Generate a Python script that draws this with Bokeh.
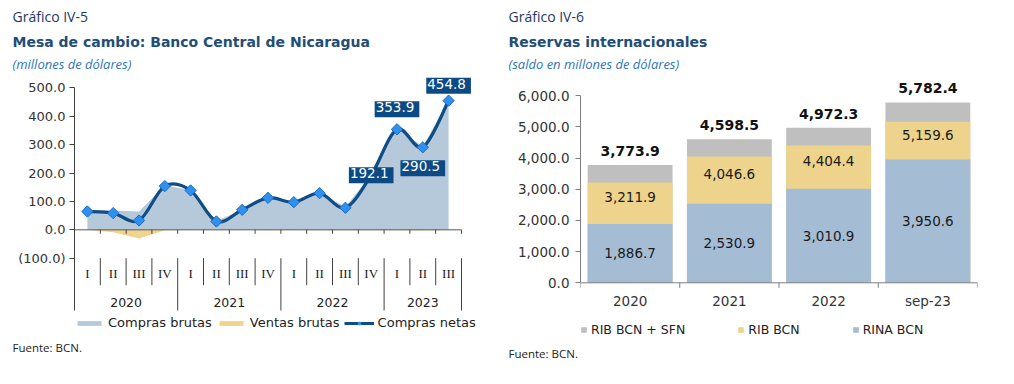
from bokeh.plotting import figure
from bokeh.models import (Range1d, FixedTicker, Title, Legend, LegendItem,
                          ColumnDataSource, NumeralTickFormatter)
from bokeh.layouts import row
from bokeh.embed import file_html
from bokeh.resources import INLINE
from bokeh.core.properties import value

# ---------------- data: Gráfico IV-5 ----------------
years = ["2020", "2021", "2022", "2023"]
quarters_per_year = [4, 4, 4, 3]
quarter_names = ["I", "II", "III", "IV"]
compras_netas = [64.5, 58.7, 32.9, 153.8, 138.5, 29.3, 70.4, 112.7, 97.4, 129.1, 77.5,
                 192.1, 353.9, 290.5, 454.8]
compras_brutas = [68.0, 68.0, 64.0, 156.0, 140.0, 31.0, 71.0, 114.0, 99.0, 131.0, 80.0,
                  194.0, 356.0, 293.0, 456.0]
ventas_brutas = [-1.0, -9.0, -31.0, -2.0, -1.0, -1.5, -0.5, -1.5, -1.0, -1.5, -2.0,
                 -2.0, -2.0, -2.5, -1.0]
labelled_points = [11, 12, 13, 14]
y_ticks_left = [-100, 0, 100, 200, 300, 400, 500]

# ---------------- data: Gráfico IV-6 ----------------
periods = ["2020", "2021", "2022", "sep-23"]
rina_bcn = [1886.7, 2530.9, 3010.9, 3950.6]
rib_bcn = [3211.9, 4046.6, 4404.4, 5159.6]
rib_bcn_sfn = [3773.9, 4598.5, 4972.3, 5782.4]
y_ticks_right = [0, 1000, 2000, 3000, 4000, 5000, 6000]

FONT = "DejaVu Sans"
TFONT = "Open Sans"
NAVY = "#1f3864"
TBLUE = "#1f4e79"
SBLUE = "#2e75b6"
AXIS = "#7f7f7f"
TXT = "#333333"
H = 376
FT, FB = 73, 338            # common frame top / bottom (px) for both charts


def add_titles(p, offset, small, big, sub, src, src_standoff):
    # "above" titles: the first one added is the nearest to the frame
    p.add_layout(Title(text=sub, align="left", offset=offset, text_font=TFONT,
                       text_font_size="13px", text_font_style="italic", text_color=SBLUE,
                       standoff=1, vertical_align="bottom"), "above")
    p.add_layout(Title(text=big, align="left", offset=offset, text_font=FONT,
                       text_font_size="14px", text_font_style="bold", text_color=TBLUE,
                       standoff=6, vertical_align="bottom"), "above")
    p.add_layout(Title(text=small, align="left", offset=offset, text_font=TFONT,
                       text_font_size="14px", text_font_style="normal", text_color=NAVY,
                       standoff=6, vertical_align="bottom"), "above")
    p.add_layout(Title(text=src, align="left", offset=offset, text_font=TFONT,
                       text_font_size="11.5px", text_font_style="normal", text_color="#222222",
                       standoff=src_standoff, vertical_align="top"), "below")


# ======================= LEFT CHART =======================
n = len(compras_netas)
xc = [i + 0.5 for i in range(n)]
W1 = 500
FL1, FR1 = 74, 478
CAT_PX = 25.8                               # px per quarter
ZERO_PX = 229.3                             # y pixel of the 0 line
AXIS_END_PX = 310                           # where the category axis ends
PX_PER_UNIT = 0.284
upx = 1 / PX_PER_UNIT
y_lo = -(FB - ZERO_PX) * upx
y_hi = (ZERO_PX - FT) * upx
y_axis_end = -(AXIS_END_PX - ZERO_PX) * upx
x_end = (FR1 - FL1) / CAT_PX

p1 = figure(width=W1, height=H, output_backend="svg", toolbar_location=None,
            x_range=Range1d(0, x_end), y_range=Range1d(y_lo, y_hi),
            min_border_left=FL1, min_border_right=W1 - FR1, min_border_top=FT,
            min_border_bottom=H - FB, x_axis_location=None)
p1.outline_line_color = None
p1.xgrid.visible = False
p1.ygrid.visible = False

ya = p1.yaxis[0]
ya.ticker = FixedTicker(ticks=y_ticks_left, minor_ticks=[])
ya.major_label_overrides = {t: (f"{t:.1f}" if t >= 0 else f"({-t:.1f})") for t in y_ticks_left}
ya.bounds = (y_axis_end, y_ticks_left[-1])
ya.axis_line_color = "#404040"
ya.major_tick_line_color = "#404040"
ya.major_tick_out = 5
ya.major_tick_in = 0
ya.major_label_standoff = 4
ya.major_label_text_font = FONT
ya.major_label_text_font_size = "13px"
ya.major_label_text_color = TXT

r_brutas = p1.varea(x=xc, y1=[0] * n, y2=compras_brutas, fill_color="#b6c9db")
r_ventas = p1.varea(x=xc, y1=[0] * n, y2=ventas_brutas, fill_color="#f0d38c")

p1.segment(x0=[0], y0=[0], x1=[n], y1=[0], line_color="#595959", line_width=1)
tick_len = 4 * upx
p1.segment(x0=list(range(1, n + 1)), y0=[0] * n, x1=list(range(1, n + 1)),
           y1=[-tick_len] * n, line_color="#404040", line_width=1)

# smooth (Excel-like) line via cubic Bezier segments
xs, ys = xc, compras_netas
bx0, by0, bx1, by1, cx0, cy0, cx1, cy1 = [], [], [], [], [], [], [], []
for i in range(n - 1):
    xm, ym = (xs[i - 1], ys[i - 1]) if i > 0 else (xs[i], ys[i])
    xp, yp = (xs[i + 2], ys[i + 2]) if i + 2 < n else (xs[i + 1], ys[i + 1])
    bx0.append(xs[i]); by0.append(ys[i]); bx1.append(xs[i + 1]); by1.append(ys[i + 1])
    cx0.append(xs[i] + (xs[i + 1] - xm) / 6); cy0.append(ys[i] + (ys[i + 1] - ym) / 6)
    cx1.append(xs[i + 1] - (xp - xs[i]) / 6); cy1.append(ys[i + 1] - (yp - ys[i]) / 6)
p1.bezier(x0=bx0, y0=by0, x1=bx1, y1=by1, cx0=cx0, cy0=cy0, cx1=cx1, cy1=cy1,
          line_color="#0e4d87", line_width=3.2)
p1.scatter(x=xc, y=compras_netas, marker="square", angle=0.785398, size=8,
           fill_color="#2f90ef", line_color="#1b6cc4", line_width=1)

# data labels (dark boxes)
lab_offsets = {11: 0, 12: -20, 13: 21, 14: -15}
lab_src = ColumnDataSource(dict(
    x=[xc[i] for i in labelled_points],
    y=[compras_netas[i] for i in labelled_points],
    t=[f"{compras_netas[i]:.1f}" for i in labelled_points],
    dy=[lab_offsets[i] for i in labelled_points]))
p1.text(x="x", y="y", text="t", y_offset="dy", source=lab_src, text_align="center",
        text_baseline="middle", text_font=value(FONT), text_font_size="13.5px",
        text_color="white", background_fill_color="#0b4a85", padding=[1, 5, 1, 5])

# category axis drawn below the plot area
q_labels, q_year_bounds = [], [0]
for y, k in zip(years, quarters_per_year):
    q_labels += quarter_names[:k]
    q_year_bounds.append(q_year_bounds[-1] + k)
inner = [b for b in range(1, n) if b not in q_year_bounds]
p1.segment(x0=inner, y0=[-100] * len(inner), x1=inner, y1=[-100 - 27 * upx] * len(inner),
           line_color="#404040", line_width=1)
outer = q_year_bounds[1:]
p1.segment(x0=outer, y0=[-100] * len(outer), x1=outer, y1=[y_axis_end] * len(outer),
           line_color="#404040", line_width=1)
p1.text(x=xc, y=[-100 - 15 * upx] * n, text=q_labels, text_align="center",
        text_baseline="middle", text_font=value("Liberation Serif"), text_font_size="13px",
        text_color="#222222")
ycent = [(a + b) / 2 for a, b in zip(q_year_bounds[:-1], q_year_bounds[1:])]
p1.text(x=ycent, y=[-100 - 44 * upx] * len(years), text=years, text_align="center",
        text_baseline="middle", text_font=value(FONT), text_font_size="12.5px",
        text_color="#222222")

# legend: hidden copies of the line + markers stand in for the smoothed curve
px_line = p1.line(x=xc, y=compras_netas, line_color="#0e4d87", line_width=3, visible=False)
px_mark = p1.scatter(x=xc, y=compras_netas, marker="square", angle=0.785398, size=5,
                     fill_color="#2f90ef", line_color="#2f90ef", visible=False)
leg1 = Legend(items=[LegendItem(label="Compras brutas", renderers=[r_brutas]),
                     LegendItem(label="Ventas brutas", renderers=[r_ventas]),
                     LegendItem(label="Compras netas", renderers=[px_line, px_mark])],
              orientation="horizontal", location=(0, 8), glyph_width=30, glyph_height=6,
              label_standoff=4, spacing=4, padding=0, margin=0, border_line_color=None,
              background_fill_alpha=0, inactive_fill_alpha=0, label_text_font=FONT,
              label_text_font_size="13px", label_text_color="#222222", label_height=14)
p1.add_layout(leg1, "center")

add_titles(p1, 12 - FL1, "Gráfico IV-5", "Mesa de cambio: Banco Central de Nicaragua",
           "(millones de dólares)", "Fuente: BCN.", 2)

# ======================= RIGHT CHART =======================
m = len(periods)
W2 = 512
X0 = W1                                     # absolute x of this canvas
FL2, FR2 = 580 - X0, 977 - X0
ZERO2 = 282.3
PX_PER_1000 = 31.2
upx2 = 1000 / PX_PER_1000
y2_lo = -(FB - ZERO2) * upx2
y2_hi = (ZERO2 - FT) * upx2
p2 = figure(width=W2, height=H, output_backend="svg", toolbar_location=None,
            x_range=Range1d(0, m), y_range=Range1d(y2_lo, y2_hi),
            min_border_left=FL2, min_border_right=W2 - FR2, min_border_top=FT,
            min_border_bottom=H - FB, x_axis_location=None)
p2.outline_line_color = None
p2.xgrid.visible = False
p2.ygrid.visible = False

xb = [i + 0.5 for i in range(m)]
r_sfn = p2.vbar(x=xb, top=rib_bcn_sfn, bottom=0, width=0.855, fill_color="#bfbfbf",
                line_color=None)
r_rib = p2.vbar(x=xb, top=rib_bcn, bottom=0, width=0.855, fill_color="#edd38b",
                line_color=None)
r_rina = p2.vbar(x=xb, top=rina_bcn, bottom=0, width=0.855, fill_color="#a4bdd5",
                 line_color=None)

ya2 = p2.yaxis[0]
ya2.ticker = FixedTicker(ticks=y_ticks_right, minor_ticks=[])
ya2.formatter = NumeralTickFormatter(format="0,0.0")
ya2.bounds = (0, y_ticks_right[-1])
ya2.axis_line_color = AXIS
ya2.major_tick_line_color = AXIS
ya2.major_tick_out = 5
ya2.major_tick_in = 0
ya2.major_label_standoff = 6
ya2.major_label_text_font = FONT
ya2.major_label_text_font_size = "13.5px"
ya2.major_label_text_color = TXT

# category axis at y = 0
p2.segment(x0=[0], y0=[0], x1=[m], y1=[0], line_color=AXIS, line_width=1)
p2.segment(x0=list(range(0, m + 1)), y0=[0] * (m + 1), x1=list(range(0, m + 1)),
           y1=[-5 * upx2] * (m + 1), line_color=AXIS, line_width=1)
p2.text(x=xb, y=[-18 * upx2] * m, text=periods, text_align="center", text_baseline="middle",
        text_font=value(FONT), text_font_size="13.5px", text_color=TXT)

fmt = lambda v: f"{v:,.1f}"
p2.text(x=xb, y=[v / 2 for v in rina_bcn], text=[fmt(v) for v in rina_bcn],
        text_align="center", text_baseline="middle", text_font=value(FONT),
        text_font_size="13.5px", text_color="#1a1a1a")
p2.text(x=xb, y=[(a + b) / 2 for a, b in zip(rina_bcn, rib_bcn)], text=[fmt(v) for v in rib_bcn],
        y_offset=-6, text_align="center", text_baseline="middle", text_font=value(FONT),
        text_font_size="13.5px", text_color="#1a1a1a")
p2.text(x=xb, y=rib_bcn_sfn, text=[fmt(v) for v in rib_bcn_sfn], y_offset=-14,
        text_align="center", text_baseline="middle", text_font=value(FONT),
        text_font_size="14px", text_font_style="bold", text_color="#111111")

leg2 = Legend(items=[LegendItem(label="RIB BCN + SFN", renderers=[r_sfn]),
                     LegendItem(label="RIB BCN", renderers=[r_rib]),
                     LegendItem(label="RINA BCN", renderers=[r_rina])],
              orientation="horizontal", location=(0, 1), glyph_width=7, glyph_height=7,
              label_standoff=4, spacing=52, padding=0, margin=0, border_line_color=None,
              background_fill_alpha=0, label_text_font=FONT, label_text_font_size="12.5px",
              label_text_color="#222222", label_height=14)
p2.add_layout(leg2, "center")

add_titles(p2, 508 - X0 - FL2, "Gráfico IV-6", "Reservas internacionales",
           "(saldo en millones de dólares)", "Fuente: BCN.", 14)

layout = row(p1, p2)
open("out.html", "w").write(file_html(layout, INLINE))
